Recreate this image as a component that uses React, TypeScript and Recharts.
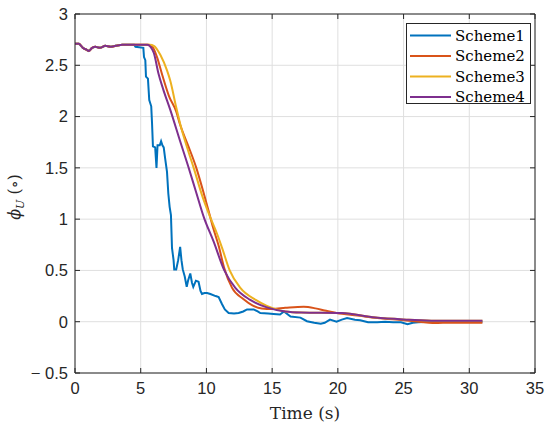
import { LineChart, Line, XAxis, YAxis, CartesianGrid, Legend } from "recharts";

// ── data ──────────────────────────────────────────────────────────────────────

const xTicks = [0, 5, 10, 15, 20, 25, 30, 35];
const yTicks = [-0.5, 0, 0.5, 1, 1.5, 2, 2.5, 3];
const seriesNames = ["Scheme1", "Scheme2", "Scheme3", "Scheme4"];
const seriesColors = ["#0072BD", "#D95319", "#EDB120", "#7E2F8E"];

// common start (all schemes identical before the manoeuvre)
const startT = [0, 0.3, 0.6, 0.9, 1.05, 1.3, 1.55, 1.9, 2.3, 2.7, 3.1, 3.6];
const startV = [2.71, 2.71, 2.67, 2.65, 2.64, 2.67, 2.68, 2.67, 2.69, 2.68, 2.69, 2.7];

const s1T = [
  4.5, 4.6, 5.2, 5.25, 5.35, 5.4, 5.55, 5.65, 5.8, 5.86, 5.93, 6.1, 6.2, 6.28, 6.45, 6.55, 6.65,
  6.75, 6.85, 7.0, 7.1, 7.2, 7.3, 7.38, 7.5, 7.55, 7.7, 7.85, 8.0, 8.1, 8.2, 8.35, 8.5, 8.6, 8.77,
  8.9, 9.0, 9.2, 9.4, 9.55, 9.66, 9.85, 10.05, 10.3, 10.7, 10.93, 11.19, 11.4, 11.69, 12.1, 12.45,
  12.8, 13.09, 13.6, 13.9, 14.1, 14.7, 15.1, 15.6, 15.9, 16.4, 17.15, 17.65, 18.2, 18.7, 19.0,
  19.4, 19.9, 20.3, 20.7, 21.3, 21.7, 22.3, 23.0, 23.6, 24.2, 24.8, 25.3, 25.7, 26.1, 27.0, 31.0,
];
const s1V = [
  2.7, 2.68, 2.67, 2.58, 2.55, 2.39, 2.37, 2.16, 2.1, 1.94, 1.71, 1.7, 1.5, 1.72, 1.72, 1.76, 1.72,
  1.7, 1.6, 1.46, 1.25, 1.12, 1.04, 0.72, 0.6, 0.51, 0.51, 0.6, 0.73, 0.6, 0.51, 0.44, 0.34, 0.4, 0.47,
  0.38, 0.34, 0.4, 0.39, 0.3, 0.27, 0.28, 0.28, 0.27, 0.25, 0.24, 0.17, 0.12, 0.085, 0.08, 0.085,
  0.1, 0.12, 0.12, 0.1, 0.085, 0.08, 0.075, 0.07, 0.1, 0.05, 0.04, 0.005, -0.01, -0.02, -0.01,
  0.02, 0.0, 0.02, 0.035, 0.02, 0.015, -0.005, -0.005, 0.0, -0.005, -0.005, -0.025, -0.01, -0.005, 0.0, 0.0,
];

const s2T = [
  5.6, 5.9, 6.24, 6.65, 7.15, 7.7, 8.0, 8.6, 9.23, 9.8, 10.25, 10.5, 10.93, 11.36, 11.95, 12.83,
  13.5, 14.2, 15.0, 16.0, 17.4, 18.3, 19.0, 19.9, 21.5, 23.0, 25.0, 26.2, 27.2, 28.0, 31.0,
];
const s2V = [
  2.7, 2.68, 2.58, 2.4, 2.2, 2.05, 1.92, 1.72, 1.5, 1.25, 1.04, 0.92, 0.74, 0.52, 0.33, 0.22,
  0.16, 0.13, 0.125, 0.135, 0.145, 0.13, 0.11, 0.085, 0.06, 0.036, 0.015, 0.0, -0.013, -0.01, -0.01,
];

const s3T = [
  5.7, 6.0, 6.5, 7.0, 7.25, 7.7, 8.0, 8.65, 9.03, 9.7, 10.35, 10.8, 11.19, 11.77, 12.58, 13.72,
  14.6, 15.1, 16.0, 17.2, 20.3, 22.85, 25.4, 27.4, 31.0,
];
const s3V = [
  2.7, 2.69, 2.6, 2.45, 2.35, 2.09, 1.93, 1.65, 1.5, 1.22, 1.0, 0.86, 0.72, 0.5, 0.33, 0.215,
  0.155, 0.13, 0.1, 0.09, 0.085, 0.04, 0.02, 0.01, 0.01,
];

const s4T = [
  5.5, 5.75, 6.0, 6.35, 6.7, 7.25, 8.0, 8.6, 9.2, 9.8, 10.55, 11.36, 12.2, 13.3, 14.6, 16.0,
  17.2, 20.3, 22.85, 25.4, 27.4, 31.0,
];
const s4V = [
  2.7, 2.68, 2.62, 2.42, 2.27, 2.065, 1.76, 1.52, 1.27, 1.02, 0.78, 0.5, 0.33, 0.215, 0.14, 0.1,
  0.09, 0.085, 0.04, 0.02, 0.01, 0.01,
];

// ── helpers ───────────────────────────────────────────────────────────────────

function toPoints(t: number[], v: number[]) {
  const tt = [...startT, ...t];
  const vv = [...startV, ...v];
  return tt.map((x, i) => ({ t: x, v: vv[i] }));
}

const seriesData = [toPoints(s1T, s1V), toPoints(s2T, s2V), toPoints(s3T, s3V), toPoints(s4T, s4V)];

const AXIS = "#262626";
const TICK_FONT = { fontSize: 16.5, fill: AXIS, fontFamily: "'Liberation Sans', Arial, sans-serif" };
const SERIF = "'DejaVu Serif', serif";

function fmtTick(v: number) {
  return String(v).replace("-", "\u2212 ");
}

// ── labels / legend ───────────────────────────────────────────────────────────

function YLabel() {
  return (
    <text transform="translate(20,197) rotate(-90)" textAnchor="middle" fontFamily={SERIF} fontSize={16} fill={AXIS}>
      <tspan fontStyle="italic">ϕ</tspan>
      <tspan fontStyle="italic" fontSize={11} dy={4}>U</tspan>
      <tspan dy={-4}> (∘)</tspan>
    </text>
  );
}

function XLabel() {
  return (
    <text x={305} y={419} textAnchor="middle" fontFamily={SERIF} fontSize={17} fill={AXIS}>
      Time (s)
    </text>
  );
}

function LegendBox() {
  return (
    <svg width={126} height={82} style={{ display: "block" }}>
      <rect x={0.5} y={0.5} width={124} height={80} fill="#fff" stroke={AXIS} strokeWidth={1} />
      {seriesNames.map((name, i) => {
        const cy = 12.5 + i * 20.5;
        return (
          <g key={name}>
            <line x1={4} x2={45} y1={cy} y2={cy} stroke={seriesColors[i]} strokeWidth={2} />
            <text x={49} y={cy + 5} fontFamily={SERIF} fontSize={15} fill="#000">
              {name}
            </text>
          </g>
        );
      })}
    </svg>
  );
}

// ── chart ─────────────────────────────────────────────────────────────────────

export default function App() {
  return (
    <div style={{ position: "absolute", left: 0, top: 0, background: "#fff" }}>
      <LineChart width={550} height={430} margin={{ top: 13, right: 14, bottom: 0, left: 0 }}>
        <CartesianGrid xAxisId="b" yAxisId="l" stroke="#dfdfdf" strokeWidth={1} />
        <XAxis
          xAxisId="b"
          dataKey="t"
          type="number"
          domain={[0, 35]}
          ticks={xTicks}
          allowDataOverflow
          height={57}
          stroke={AXIS}
          tick={TICK_FONT}
          tickSize={-5}
          tickMargin={14}
          label={<XLabel />}
        />
        <XAxis
          xAxisId="top"
          orientation="top"
          dataKey="t"
          type="number"
          domain={[0, 35]}
          ticks={xTicks}
          allowDataOverflow
          height={1}
          stroke={AXIS}
          tickSize={-5}
          tickFormatter={() => ""}
        />
        <YAxis
          yAxisId="l"
          type="number"
          domain={[-0.5, 3]}
          ticks={yTicks}
          allowDataOverflow
          width={75}
          stroke={AXIS}
          tick={TICK_FONT}
          tickSize={-5}
          tickMargin={12}
          tickFormatter={fmtTick}
          label={<YLabel />}
        />
        <YAxis
          yAxisId="r"
          orientation="right"
          type="number"
          domain={[-0.5, 3]}
          ticks={yTicks}
          allowDataOverflow
          width={1}
          stroke={AXIS}
          tickSize={-5}
          tickFormatter={() => ""}
        />
        <Legend
          layout="vertical"
          align="center"
          verticalAlign="middle"
          wrapperStyle={{ top: 23, left: 406, width: 126 }}
          content={() => <LegendBox />}
        />
        {seriesData.map((d, i) => (
          <Line
            key={seriesNames[i]}
            xAxisId="b"
            yAxisId="l"
            data={d}
            dataKey="v"
            name={seriesNames[i]}
            type={i === 0 ? "linear" : "monotone"}
            stroke={seriesColors[i]}
            strokeWidth={2}
            dot={false}
            isAnimationActive={false}
          />
        ))}
        {/* invisible series so the top/right box axes get a domain */}
        <Line
          xAxisId="top"
          yAxisId="r"
          data={seriesData[3]}
          dataKey="v"
          legendType="none"
          stroke="none"
          dot={false}
          activeDot={false}
          isAnimationActive={false}
        />
      </LineChart>
    </div>
  );
}
